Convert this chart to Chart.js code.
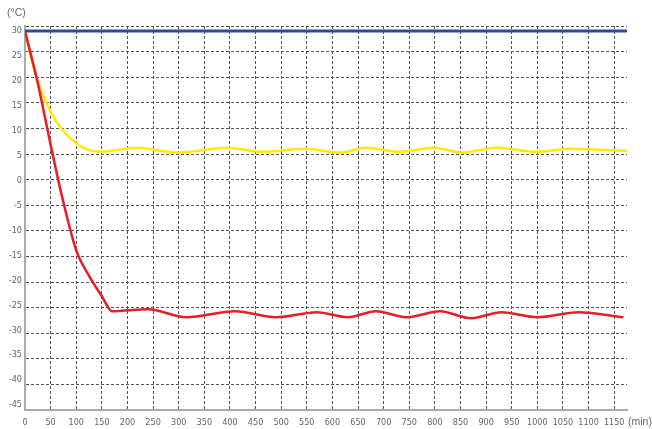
<!DOCTYPE html>
<html>
<head>
<meta charset="utf-8">
<script src="https://cdn.jsdelivr.net/npm/chart.js@4/dist/chart.umd.min.js"></script>
<style>
  html,body{margin:0;padding:0;background:#fff;}
  #wrap{width:652px;height:429px;}
</style>
</head>
<body>
<div id="wrap"><canvas id="chart" width="652" height="429"></canvas></div>
<script>
// tick values
const xTicks = [0,50,100,150,200,250,300,350,400,450,500,550,600,650,700,750,800,850,900,950,1000,1050,1100,1150];
const yTicks = [30,25,20,15,10,5,0,-5,-10,-15,-20,-25,-30,-35,-40,-45];

// blue: set point
const blueMin = [0, 1175];
const blueTemp = [30, 30];

// yellow
const yellowMin  = [0, 15, 30, 50, 75, 100, 125, 150, 170, 218, 298, 393, 464, 549, 614, 666, 730, 799, 853, 919, 997, 1067, 1120, 1175];
const yellowTemp = [30, 23.4, 18.5, 13.8, 9.9, 7.5, 6.1, 5.8, 6.0, 6.6, 5.6, 6.6, 5.8, 6.4, 5.6, 6.6, 5.8, 6.6, 5.6, 6.6, 5.8, 6.4, 6.2, 6.0];

// red
const redMin  = [0, 25, 50, 75, 100, 125, 150, 170, 200, 240, 315, 410, 490, 570, 630, 685, 745, 810, 870, 930, 1000, 1080, 1168];
const redTemp = [30, 19.5, 7.2, -4.4, -14, -19.1, -23.2, -26.2, -26.0, -25.8, -27.4, -26.2, -27.4, -26.4, -27.4, -26.2, -27.4, -26.2, -27.6, -26.4, -27.4, -26.4, -27.4];

const pts = (xs, ys) => xs.map((x, i) => ({ x, y: ys[i] }));
const tickFont = { family: "'Liberation Sans Narrow', 'DejaVu Sans Condensed', sans-serif", size: 9 };
const tickColor = '#5c6577';

const unitLabels = {
  id: 'unitLabels',
  afterDraw(chart){
    const c = chart.ctx;
    c.save();
    c.fillStyle = '#666';
    c.font = "10.5px 'Liberation Sans', sans-serif";
    c.textBaseline = 'middle';
    c.textAlign = 'left';
    c.fillText('(°C)', 7, 13);
    c.fillText('(min)', 628, 422);
    c.restore();
  }
};

new Chart(document.getElementById('chart').getContext('2d'), {
  type: 'line',
  data: {
    datasets: [
      { data: pts(blueMin, blueTemp), yAxisID: 'y', borderColor: '#2f4a9a', borderWidth: 3, pointRadius: 0 },
      { data: pts(redMin, redTemp), yAxisID: 'y', borderColor: '#e41f28', borderWidth: 2.5, pointRadius: 0, cubicInterpolationMode: 'monotone' },
      { data: pts(yellowMin, yellowTemp), yAxisID: 'y', borderColor: '#ffea00', borderWidth: 2.5, pointRadius: 0, cubicInterpolationMode: 'monotone' }
    ]
  },
  options: {
    responsive: false,
    animation: false,
    layout: { padding: { top: 26, right: 25, left: 0, bottom: 0 } },
    plugins: { legend: { display: false }, tooltip: { enabled: false } },
    scales: {
      x: {
        type: 'linear', min: 0, max: 1175,
        afterBuildTicks: s => { s.ticks = xTicks.map(v => ({ value: v })); },
        afterFit: s => { s.height = 19; },
        grid: { color: '#555', lineWidth: 1, drawTicks: false },
        border: { display: true, color: '#aaa', width: 2, dash: [3, 2] },
        ticks: { font: tickFont, color: tickColor, padding: 7, maxRotation: 0, autoSkip: false, callback: v => String(v) }
      },
      yg: {
        type: 'linear', position: 'left', weight: 0, min: -45, max: 30,
        afterBuildTicks: s => { s.ticks = yTicks.map(v => ({ value: v })); },
        afterFit: s => { s.width = 0; },
        grid: { color: '#555', lineWidth: 1, drawTicks: false },
        border: { display: true, color: '#aaa', width: 2, dash: [3, 2] },
        ticks: { display: false }
      },
      y: {
        type: 'linear', position: 'left', weight: 1, min: -46, max: 31,
        afterBuildTicks: s => { s.ticks = yTicks.map(v => ({ value: v })); },
        afterFit: s => { s.width = 25; },
        grid: { display: false, drawTicks: false },
        border: { display: false },
        ticks: { font: tickFont, color: tickColor, padding: 3, callback: v => String(v) }
      }
    }
  },
  plugins: [unitLabels]
});
</script>
</body>
</html>
